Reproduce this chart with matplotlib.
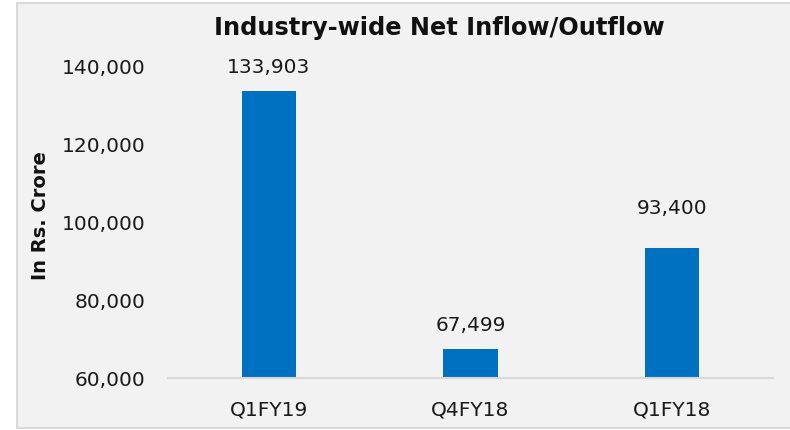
import matplotlib
matplotlib.use("Agg")
import matplotlib.pyplot as plt
from matplotlib.patches import Rectangle
from matplotlib.ticker import FuncFormatter

categories = ["Q1FY19", "Q4FY18", "Q1FY18"]
net_flows = [133903, 67499, 93400]
y_ticks = [60000, 80000, 100000, 120000, 140000]

plt.rcParams["font.family"] = ["DejaVu Sans"]

W, H = 790, 430
fig = plt.figure(figsize=(W / 100, H / 100), dpi=100)
fig.patch.set_facecolor("white")

# Chart-area panel with thin grey frame
fig.patches.append(Rectangle((17 / W, 2 / H), (W + 5 - 17) / W, (427 - 2) / H,
                             transform=fig.transFigure, facecolor="#f2f2f2",
                             edgecolor="#d9d9d9", linewidth=1.5, zorder=-5))

left, right, bottom, top = 168, 773, 378, 67
ax = fig.add_axes([left / W, 1 - bottom / H, (right - left) / W, (bottom - top) / H])
ax.set_facecolor("none")
ax.set_zorder(2)

x = list(range(len(categories)))
bars = ax.bar(x, net_flows, width=0.27, color="#0070c0", zorder=2)
ax.set_ylim(60000, 140000)
ax.set_xlim(-0.5, len(categories) - 0.5)
ax.set_yticks(y_ticks)
ax.yaxis.set_major_formatter(FuncFormatter(lambda v, p: f"{int(v):,}"))
ax.set_xticks(x)
ax.set_xticklabels(categories)
ax.tick_params(axis="both", length=0, labelsize=14.5, colors="#1a1a1a")
ax.tick_params(axis="y", pad=16.5)
ax.tick_params(axis="x", pad=16)

for s in ["top", "right", "left"]:
    ax.spines[s].set_visible(False)
ax.spines["bottom"].set_color("#d9d9d9")
ax.spines["bottom"].set_linewidth(1.5)

# value labels; the last one sits a little higher
label_lift = [12.5, 12.5, 24.5]
for xi, v, lift in zip(x, net_flows, label_lift):
    ax.annotate(f"{v:,}", (xi, v), xytext=(0, lift), textcoords="offset points",
                ha="center", va="baseline", fontsize=14.5, color="#1a1a1a",
                annotation_clip=False)

fig.text(439 / W, 1 - 28 / H, "Industry-wide Net Inflow/Outflow", ha="center",
         va="center", fontsize=17.3, fontweight="bold", color="#111111")
fig.text(41 / W, 1 - 216 / H, "In Rs. Crore", ha="center", va="center",
         rotation=90, fontsize=14, fontweight="bold", color="#111111")

fig.savefig("out.png", dpi=100)
